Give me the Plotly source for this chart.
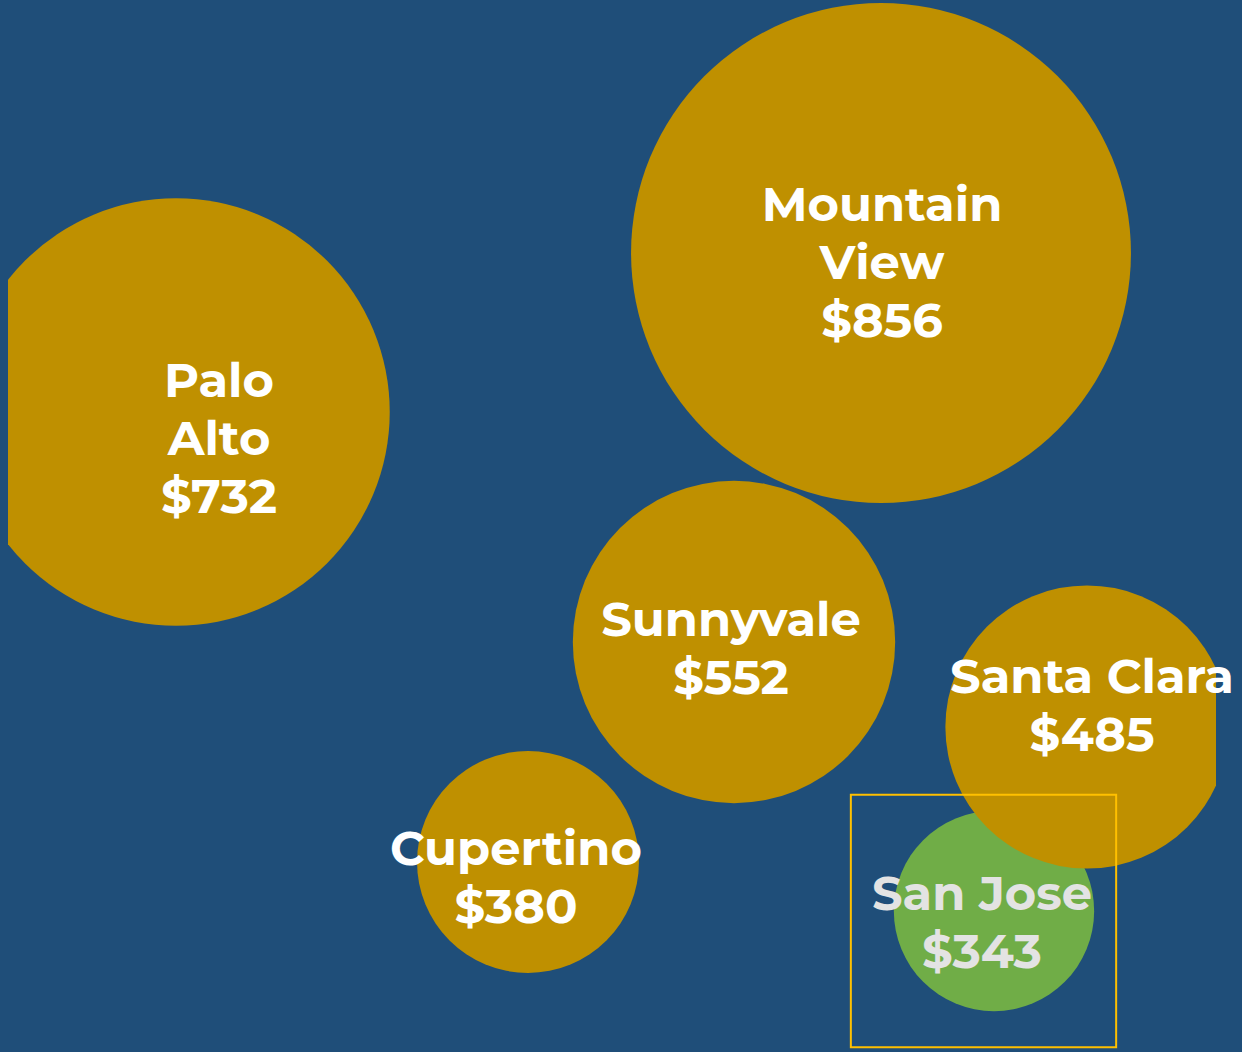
import plotly.graph_objects as go

# ---- data ----
cities = ["Palo Alto", "Mountain View", "Sunnyvale", "Cupertino", "San Jose", "Santa Clara"]
values = [732, 856, 552, 380, 343, 485]
# bubble layout positions (chart units)
bubble_x = [168, 873, 726, 520, 986, 1079]
bubble_y = [412, 253, 642, 862, 911, 727]
# label anchor positions (chart units)
label_x = [211, 874, 723, 508, 974, 1084]
label_y = [443, 267, 653, 882, 927, 710]
label_lines = [["Palo", "Alto", "$732"], ["Mountain", "View", "$856"], ["Sunnyvale", "$552"],
               ["Cupertino", "$380"], ["San Jose", "$343"], ["Santa Clara", "$485"]]
highlight = "San Jose"

BG = "#1F4E79"
GOLD = "#BF9000"
GREEN = "#70AD47"
LINE_GAP = 58
colors = [GREEN if c == highlight else GOLD for c in cities]

fig = go.Figure()
fig.add_trace(go.Scatter(
    x=bubble_x, y=bubble_y, mode="markers",
    marker=dict(size=values, sizemode="diameter", sizeref=1 / 0.584,
                color=colors, line=dict(width=0), opacity=1),
    hoverinfo="skip", cliponaxis=True, showlegend=False,
))

tx, ty, tt, tc = [], [], [], []
for c, lx, ly, lines in zip(cities, label_x, label_y, label_lines):
    n = len(lines)
    for k, s in enumerate(lines):
        tx.append(lx)
        ty.append(ly + (k - (n - 1) / 2) * LINE_GAP)
        tt.append(s)
        tc.append("#E3E3E3" if c == highlight else "#FFFFFF")

fig.add_trace(go.Scatter(
    x=tx, y=ty, mode="text", text=tt,
    textposition="middle center",
    textfont=dict(family="Montserrat, 'Open Sans', sans-serif", size=48,
                  color=tc, weight="bold"),
    hoverinfo="skip", cliponaxis=False, showlegend=False,
))

# highlight box around selected bubble
i = cities.index(highlight)
r = values[i] * 0.292
fig.add_shape(type="rect", xref="x", yref="y",
              x0=bubble_x[i] - r - 43, x1=bubble_x[i] + r + 22,
              y0=bubble_y[i] - r - 16, y1=bubble_y[i] + r + 36,
              line=dict(color="#FFC000", width=2), layer="above")

fig.update_layout(
    width=1242, height=1052,
    margin=dict(l=8, r=26, t=0, b=0),
    paper_bgcolor=BG, plot_bgcolor=BG,
    xaxis=dict(range=[0, 1208], visible=False, fixedrange=True),
    yaxis=dict(range=[1052, 0], visible=False, fixedrange=True),
)
fig.write_html(
    "out.html",
    config={"displayModeBar": False},
    post_script="document.body.style.margin='0';document.body.style.background='%s';" % BG,
)
